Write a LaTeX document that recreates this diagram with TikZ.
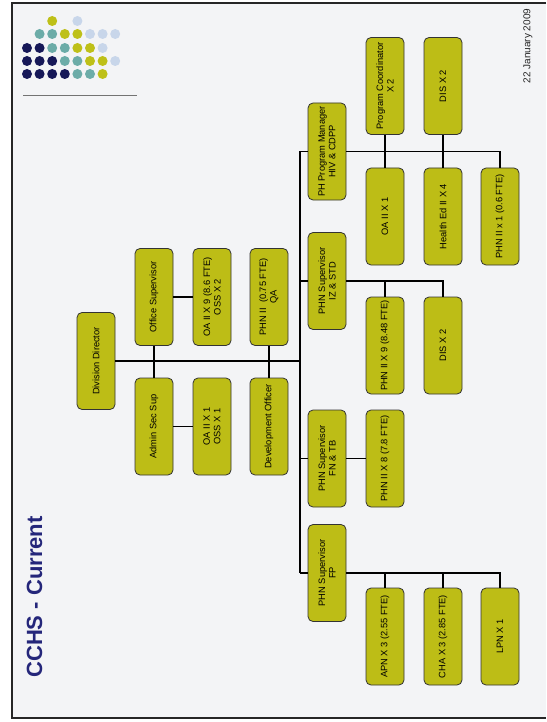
\documentclass[tikz,border=0pt]{standalone}
\usepackage{xcolor}
\usepackage{fontspec}
\setmainfont{Liberation Sans}
\usepackage{tikz}
\usetikzlibrary{shapes,arrows,positioning,calc}
\definecolor{olivebox}{RGB}{189,189,22}
\definecolor{slidebg}{RGB}{243,244,246}
\definecolor{titleblue}{RGB}{36,38,122}
\definecolor{dotn}{RGB}{22,24,88}
\definecolor{dott}{RGB}{108,172,168}
\definecolor{doto}{RGB}{190,192,24}
\definecolor{dotl}{RGB}{200,214,234}

\begin{document}
\begin{tikzpicture}[
    x=1pt, y=-1pt,
    every node/.style={font=\fontsize{9.3}{10.5}\selectfont},
    unit/.style={draw=black!80, thick, fill=olivebox, rounded corners=5pt, rotate=90,
        minimum width=97pt, minimum height=38pt, inner sep=1pt, align=center,
        text=black},
    link/.style={draw=black, line width=1.3pt}
]
\useasboundingbox (0,0) rectangle (546,722);

% Slide
\fill[white] (0,0) rectangle (546,722);
\fill[slidebg] (12,3) rectangle (546,718);
\draw[black!85, line width=1.5pt] (546,3) -- (12,3) -- (12,718) -- (546,718);

% Logo dots
\foreach \i/\c in {3/o,5/l} \fill[dot\c] (27+12.6*\i-12.6,21) circle (5);
\foreach \i/\c in {2/t,3/t,4/o,5/o,6/l,7/l,8/l} \fill[dot\c] (27+12.6*\i-12.6,34) circle (5);
\foreach \i/\c in {1/n,2/n,3/t,4/t,5/o,6/o,7/l} \fill[dot\c] (27+12.6*\i-12.6,48) circle (5);
\foreach \i/\c in {1/n,2/n,3/n,4/t,5/t,6/o,7/o,8/l} \fill[dot\c] (27+12.6*\i-12.6,61) circle (5);
\foreach \i/\c in {1/n,2/n,3/n,4/n,5/t,6/t,7/o} \fill[dot\c] (27+12.6*\i-12.6,74) circle (5);
\draw[black!55, line width=0.8pt] (23,95) -- (137,95);

% Title and date
\node[rotate=90, font=\fontsize{22}{24}\selectfont\bfseries, text=titleblue] (title) at (34.5,597) {CCHS - Current};
\node[rotate=90, font=\fontsize{10}{12}\selectfont, text=black!85] (date) at (528,46) {22 January 2009};

% Director and staff
\node[unit] (dd) at (96,361) {Division Director};
\node[unit] (offsup) at (154,297) {Office Supervisor};
\node[unit] (adminsec) at (154,426.5) {Admin Sec Sup};
\node[unit] (oaix9) at (212,297) {OA II X 9 (8.6 FTE)\\OSS X 2};
\node[unit] (oaix1oss) at (212,426.5) {OA II X 1\\OSS X 1};
\node[unit] (phnqa) at (269,297) {PHN II \ (0.75 FTE)\\QA};
\node[unit] (devoff) at (269,426.5) {Development Officer};

% Program managers
\node[unit] (phprog) at (327,151.5) {PH Program Manager\\HIV \& CDPP};
\node[unit] (phniz) at (327,281) {PHN Supervisor\\IZ \& STD};
\node[unit] (phnfn) at (327,458.5) {PHN Supervisor\\FN \& TB};
\node[unit] (phnfp) at (327,573) {PHN Supervisor\\FP};

% HIV & CDPP
\node[unit] (progcoord) at (385,86) {Program Coordinator\\X 2};
\node[unit] (distop) at (443,86) {DIS X 2};
\node[unit] (oaii) at (385,216.5) {OA II X 1};
\node[unit] (healthed) at (443,216.5) {Health Ed II X 4};
\node[unit] (phnpt6) at (500,216.5) {PHN II x 1 (0.6 FTE)};

% IZ & STD, FN & TB
\node[unit] (phnx9) at (385,345.5) {PHN II X 9 (8.48 FTE)};
\node[unit] (dislow) at (443,345.5) {DIS X 2};
\node[unit] (phnx8) at (385,458.5) {PHN II X 8 (7.8 FTE)};

% FP
\node[unit] (apn) at (385,636.5) {APN X 3 (2.55 FTE)};
\node[unit] (cha) at (443,636.5) {CHA X 3 (2.85 FTE)};
\node[unit] (lpn) at (500,636.5) {LPN X 1};

% Spine
\coordinate (jph) at (300,151.5);
\coordinate (jiz) at (300,281);
\coordinate (jdd) at (300,361);
\coordinate (jfn) at (300,458.5);
\coordinate (jfp) at (300,573);
\draw[link] (jph) -- (jfp);

% Connectors
\draw[link] (dd) -- (jdd);
\draw[link] (offsup) -- (adminsec);
\draw[link] (phnqa) -- (devoff);
\draw[link] (offsup) -- (oaix9);
\draw[link] (adminsec) -- (oaix1oss);
\draw[link] (jph) -- (phprog);
\draw[link] (phprog) -| (phnpt6);
\draw[link] (progcoord) -- (oaii);
\draw[link] (distop) -- (healthed);
\draw[link] (jiz) -- (phniz);
\draw[link] (phniz) -| (phnx9);
\draw[link] (phniz) -| (dislow);
\draw[link] (jfn) -- (phnfn);
\draw[link] (phnfn) -- (phnx8);
\draw[link] (jfp) -- (phnfp);
\draw[link] (phnfp) -| (apn);
\draw[link] (phnfp) -| (cha);
\draw[link] (phnfp) -| (lpn);

\end{tikzpicture}
\end{document}
